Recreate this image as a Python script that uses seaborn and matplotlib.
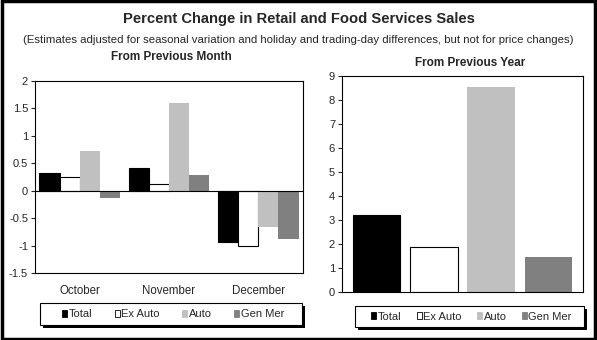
import matplotlib
matplotlib.use("Agg")
import matplotlib.pyplot as plt
from matplotlib.patches import Patch, Rectangle
import seaborn as sns
import pandas as pd

months = ["October", "November", "December"]
series = ["Total", "Ex Auto", "Auto", "Gen Mer"]
monthly_total = [0.32, 0.42, -0.93]
monthly_ex_auto = [0.25, 0.13, -1.00]
monthly_auto = [0.73, 1.59, -0.67]
monthly_gen_mer = [-0.14, 0.28, -0.88]
yearly_values = [3.20, 1.86, 8.56, 1.47]

colors = {"Total": "#000000", "Ex Auto": "#FFFFFF", "Auto": "#C0C0C0", "Gen Mer": "#808080"}
edges = {"Total": "#000000", "Ex Auto": "#000000", "Auto": "none", "Gen Mer": "none"}

sns.set_theme(style="white")
plt.rcParams["font.family"] = ["Liberation Sans", "DejaVu Sans"]

rows = []
for name, vals in zip(series, [monthly_total, monthly_ex_auto, monthly_auto, monthly_gen_mer]):
    for m, v in zip(months, vals):
        rows.append({"month": m, "series": name, "value": v})
df_m = pd.DataFrame(rows)
df_y = pd.DataFrame({"series": series, "value": yearly_values})

W, H = 597, 340
fig = plt.figure(figsize=(W/100, H/100), dpi=100)
fig.patch.set_facecolor("white")

ax1 = fig.add_axes([35/W, 1-273/H, 268/W, 192/H])
ax2 = fig.add_axes([342/W, 1-292/H, 241/W, 216/H])

sns.barplot(data=df_m, x="month", y="value", hue="series", hue_order=series,
            palette=colors, width=0.9, ax=ax1, legend=False, saturation=1, errorbar=None)
for cont, name in zip(ax1.containers, series):
    for bar in cont:
        bar.set_edgecolor(edges[name])
        bar.set_linewidth(0.8)

sns.barplot(data=df_y, x="series", y="value", hue="series", hue_order=series,
            palette=colors, width=0.83, ax=ax2, legend=False, saturation=1, errorbar=None)
for bar, name in zip(ax2.patches, series):
    bar.set_edgecolor(edges[name])
    bar.set_linewidth(0.8)

ax1.set_ylim(-1.5, 2)
ax1.set_yticks([-1.5, -1, -0.5, 0, 0.5, 1, 1.5, 2])
ax1.set_yticklabels(["-1.5", "-1", "-0.5", "0", "0.5", "1", "1.5", "2"])
ax1.set_xlim(-0.5, 2.5)
ax1.axhline(0, color="black", lw=0.8, zorder=3)
ax1.tick_params(axis="x", length=0, pad=9, labelsize=8.3)
ax1.tick_params(axis="y", length=3, width=0.8, direction="out", pad=2, labelsize=8, left=True)

ax2.set_ylim(0, 9)
ax2.set_yticks(range(0, 10))
ax2.set_xlim(-0.6, 3.6)
ax2.set_xticks([])
ax2.tick_params(axis="y", length=3, width=0.8, direction="out", pad=2, labelsize=8, left=True)

for ax in (ax1, ax2):
    ax.set_xlabel("")
    ax.set_ylabel("")
    for s in ax.spines.values():
        s.set_visible(True)
        s.set_color("black")
        s.set_linewidth(0.8)
    ax.set_facecolor("white")

handles = [Patch(facecolor=colors[n], edgecolor=("black" if n in ("Total", "Ex Auto") else colors[n]),
                 linewidth=0.6, label=n) for n in series]

def make_legend(x0, y0, x1, y1, colsp):
    fig.patches.append(Rectangle((x0/W + 3/W, 1-(y1+3)/H), (x1-x0)/W, (y1-y0)/H,
                                 transform=fig.transFigure, facecolor="black",
                                 edgecolor="black", lw=0, zorder=4))
    fig.patches.append(Rectangle((x0/W, 1-y1/H), (x1-x0)/W, (y1-y0)/H,
                                 transform=fig.transFigure, facecolor="white",
                                 edgecolor="black", lw=0.8, zorder=5))
    leg = fig.legend(handles=handles, ncol=4, loc="center",
                     bbox_to_anchor=((x0+x1)/2/W + 2/W, 1-(y0+y1)/2/H),
                     frameon=False, fontsize=8, handlelength=0.45, handleheight=0.6,
                     handletextpad=0.15, columnspacing=colsp, borderpad=0, borderaxespad=0)
    leg.set_zorder(6)
    return leg

make_legend(40, 303, 302, 325, 2.0)
make_legend(355, 306, 584, 327, 1.35)

fig.text(0.5, 1-19/H, "Percent Change in Retail and Food Services Sales",
         ha="center", va="center", fontsize=10.6, fontweight="bold")
fig.text(0.5, 1-40/H, "(Estimates adjusted for seasonal variation and holiday and trading-day differences, but not for price changes)",
         ha="center", va="center", fontsize=8.2)
fig.text(171/W, 1-57/H, "From Previous Month", ha="center", va="center", fontsize=8.5, fontweight="bold")
fig.text(470/W, 1-63/H, "From Previous Year", ha="center", va="center", fontsize=8.5, fontweight="bold")

fig.patches.append(Rectangle((0.003, 0.004), 0.994, 0.992, transform=fig.transFigure,
                             fill=False, edgecolor="black", linewidth=2.5, zorder=10))

fig.savefig("out.png", dpi=100)
